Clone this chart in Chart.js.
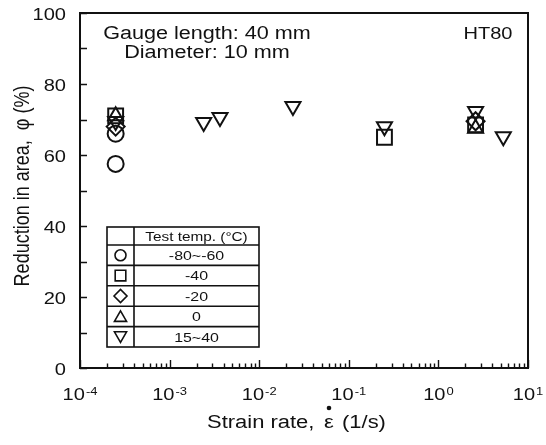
<!DOCTYPE html>
<html>
<head>
<meta charset="utf-8">
<script src="https://cdn.jsdelivr.net/npm/chart.js@4.4.0/dist/chart.umd.min.js"></script>
<style>
  html, body { margin: 0; padding: 0; background: #fff; }
  canvas { display: block; }
</style>
</head>
<body>
<canvas id="chart" width="546" height="445"></canvas>
<script>
// Reduction in area of HT80 tensile specimens against strain rate
const yTickValues = [0, 20, 40, 60, 80, 100];
const xDecades = [-4, -3, -2, -1, 0, 1];
const tempLabels = ['-80~-60', '-40', '-20', '0', '15~40'];

// -80 ~ -60 °C
const circleRate = [2.5e-4, 2.5e-4];
const circleRA = [66, 57.5];
// -40 °C
const squareRate = [2.5e-4, 0.25, 2.6];
const squareRA = [71, 65, 68.5];
// -20 °C
const diamondRate = [2.5e-4, 2.6];
const diamondRA = [68, 69.5];
// 0 °C
const triUpRate = [2.5e-4, 2.6];
const triUpRA = [71, 67.5];
// 15 ~ 40 °C
const triDownRate = [2.5e-4, 2.4e-3, 3.65e-3, 0.0238, 0.25, 2.6, 5.3];
const triDownRA = [69.5, 69.2, 70.6, 73.7, 68, 72.3, 65.2];

const seriesRates = [circleRate, squareRate, diamondRate, triUpRate, triDownRate];
const seriesRA = [circleRA, squareRA, diamondRA, triUpRA, triDownRA];

const markers = [
  { pointStyle: 'circle',   radius: 8,    rotation: 0,   legendRadius: 5.5 },
  { pointStyle: 'rect',     radius: 10.5, rotation: 0,   legendRadius: 7.5 },
  { pointStyle: 'rectRot',  radius: 9,    rotation: 0,   legendRadius: 6.5 },
  { pointStyle: 'triangle', radius: 8.7,  rotation: 0,   legendRadius: 7 },
  { pointStyle: 'triangle', radius: 8.7,  rotation: 180, legendRadius: 7 }
];

const INK = '#111';
const FONT = '"Liberation Sans", Arial, Helvetica, sans-serif';
const SX = 1.18; // horizontal glyph stretch of the lettering

const datasets = seriesRates.map((rates, i) => ({
  label: tempLabels[i],
  data: rates.map((r, k) => ({ x: r, y: seriesRA[i][k] })),
  pointStyle: markers[i].pointStyle,
  pointRadius: markers[i].radius,
  pointRotation: markers[i].rotation,
  pointBorderWidth: 2,
  pointBorderColor: INK,
  pointBackgroundColor: 'rgba(0,0,0,0)',
  showLine: false
}));

function text(ctx, str, x, y, size, align, baseline, sx) {
  ctx.save();
  ctx.font = size + 'px ' + FONT;
  ctx.textAlign = align;
  ctx.textBaseline = baseline;
  ctx.fillStyle = INK;
  ctx.translate(x, y);
  ctx.scale(sx || SX, 1);
  ctx.fillText(str, 0, 0);
  ctx.restore();
}

function textWidth(ctx, str, size, sx) {
  ctx.save();
  ctx.font = size + 'px ' + FONT;
  const w = ctx.measureText(str).width * (sx || SX);
  ctx.restore();
  return w;
}

function marker(ctx, m, x, y, r) {
  ctx.save();
  ctx.strokeStyle = INK;
  ctx.fillStyle = 'rgba(0,0,0,0)';
  ctx.lineWidth = 1.6;
  Chart.helpers.drawPoint(ctx, { pointStyle: m.pointStyle, rotation: m.rotation, radius: r, borderWidth: 1.6 }, x, y);
  ctx.restore();
}

const framePlugin = {
  id: 'frame',
  beforeDatasetsDraw(chart) {
    const { ctx, chartArea: a, scales: { x, y } } = chart;
    ctx.save();
    ctx.strokeStyle = INK;
    ctx.lineWidth = 2;
    ctx.strokeRect(a.left, a.top, a.right - a.left, a.bottom - a.top);

    // inward ticks on the strain-rate axis
    ctx.lineWidth = 1.4;
    ctx.beginPath();
    xDecades.forEach(d => {
      const steps = d === xDecades[xDecades.length - 1] ? [1] : [1, 2, 3, 4, 5, 6, 7, 8, 9];
      steps.forEach(m => {
        const px = Math.round(x.getPixelForValue(m * Math.pow(10, d))) + 0.5;
        const len = m === 1 ? 8 : 4.5;
        ctx.moveTo(px, a.bottom);
        ctx.lineTo(px, a.bottom - len);
      });
    });
    // inward ticks on the reduction-in-area axis
    for (let v = 0; v <= 100; v += 10) {
      const py = Math.round(y.getPixelForValue(v)) + 0.5;
      ctx.moveTo(a.left, py);
      ctx.lineTo(a.left + 7, py);
    }
    ctx.stroke();
    ctx.restore();

    // tick labels
    yTickValues.forEach(v => {
      text(ctx, String(v), 66, y.getPixelForValue(v) + 2, 17, 'right', 'middle');
    });
    xDecades.forEach(d => {
      const base = '10', exp = d < 0 ? '-' + Math.abs(d) : String(d);
      const wb = textWidth(ctx, base, 17), we = textWidth(ctx, exp, 11);
      const cx = x.getPixelForValue(Math.pow(10, d));
      const left = cx - (wb + we + 1) / 2;
      text(ctx, base, left, 400, 17, 'left', 'alphabetic');
      text(ctx, exp, left + wb + 1, 395, 11, 'left', 'alphabetic');
    });

    // axis titles
    const TS = 18, TSX = 1.22;
    const epsX = 329;
    text(ctx, 'Strain rate,', 207, 428, TS, 'left', 'alphabetic', TSX);
    text(ctx, 'ε', epsX, 428, TS, 'center', 'alphabetic', TSX);
    text(ctx, '(1/s)', epsX + 13, 428, TS, 'left', 'alphabetic', TSX);
    ctx.save();
    ctx.fillStyle = INK;
    ctx.beginPath();
    ctx.arc(epsX, 408, 2.3, 0, Math.PI * 2);
    ctx.fill();
    ctx.restore();

    ctx.save();
    ctx.font = '18px ' + FONT;
    ctx.fillStyle = INK;
    ctx.textAlign = 'center';
    ctx.textBaseline = 'middle';
    ctx.translate(23, 186);
    ctx.scale(SX, 1);
    ctx.rotate(-Math.PI / 2);
    ctx.fillText('Reduction in area,  \u03c6 (%)', 0, 0);
    ctx.restore();

    // specimen notes
    text(ctx, 'Gauge length: 40 mm', 207, 34, 18, 'center', 'middle', 1.2);
    text(ctx, 'Diameter: 10 mm', 207, 53, 18, 'center', 'middle', 1.2);
    text(ctx, 'HT80', 488, 34, 17, 'center', 'middle');
  },
  afterDraw(chart) {
    const { ctx } = chart;
    // temperature key table
    const L = 107, D = 134, R = 259, T = 227, H = 245, B = 347;
    const rowH = (B - H) / tempLabels.length;
    ctx.save();
    ctx.fillStyle = '#fff';
    ctx.fillRect(L, T, R - L, B - T);
    ctx.strokeStyle = INK;
    ctx.lineWidth = 1.6;
    ctx.strokeRect(L, T, R - L, B - T);
    ctx.beginPath();
    ctx.moveTo(D, T); ctx.lineTo(D, B);
    ctx.moveTo(L, H); ctx.lineTo(R, H);
    for (let i = 1; i < tempLabels.length; i++) {
      const yy = H + rowH * i;
      ctx.moveTo(L, yy); ctx.lineTo(R, yy);
    }
    ctx.stroke();
    ctx.restore();

    text(ctx, 'Test temp. (\u00b0C)', (D + R) / 2, (T + H) / 2 + 1, 13, 'center', 'middle');
    tempLabels.forEach((lab, i) => {
      const cy = H + rowH * (i + 0.5);
      text(ctx, lab, (D + R) / 2, cy + 1, 13.5, 'center', 'middle');
      const m = markers[i];
      const dy = m.pointStyle === 'triangle' ? (m.rotation ? -1.5 : 1.5) : 0;
      marker(ctx, m, (L + D) / 2, cy + dy, m.legendRadius);
    });
  }
};

new Chart(document.getElementById('chart'), {
  type: 'scatter',
  data: { datasets },
  options: {
    responsive: false,
    animation: false,
    devicePixelRatio: 1,
    layout: { padding: { left: 80, right: 18, top: 13, bottom: 77 } },
    plugins: { legend: { display: false }, tooltip: { enabled: false } },
    scales: {
      x: { type: 'logarithmic', min: 1e-4, max: 10, display: false },
      y: { type: 'linear', min: 0, max: 100, display: false }
    }
  },
  plugins: [framePlugin]
});
</script>
</body>
</html>
